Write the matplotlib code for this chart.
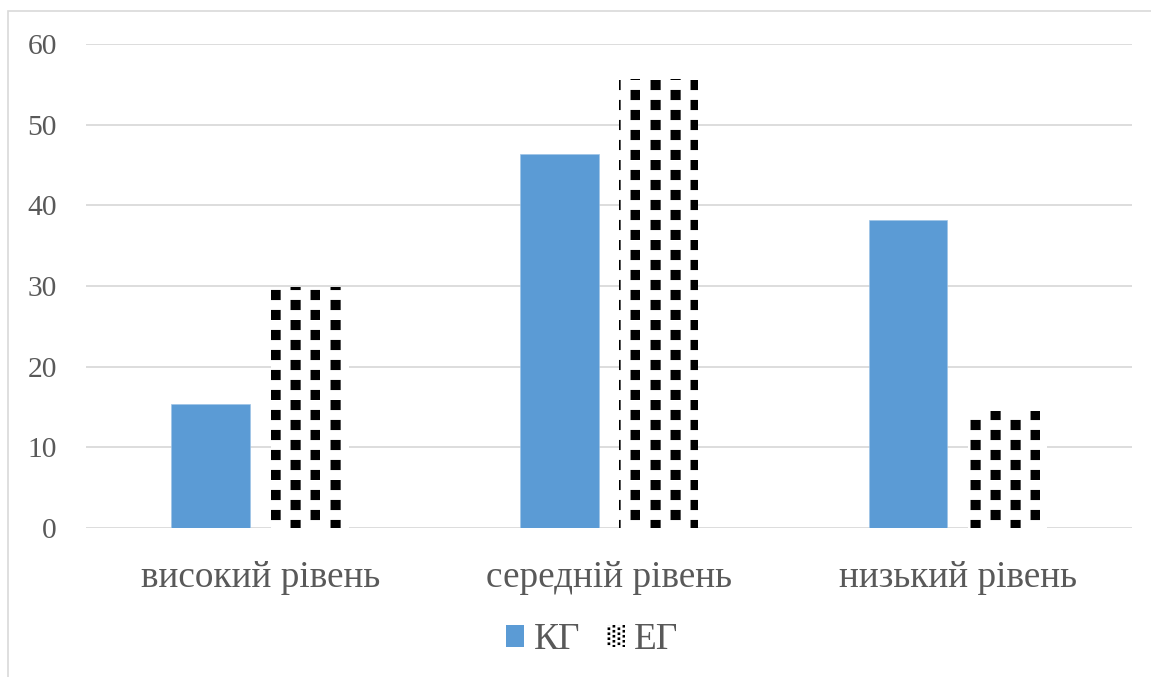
import warnings
import numpy as np
import matplotlib
matplotlib.use("Agg")
import matplotlib.pyplot as plt
import matplotlib.hatch as mhatch
import matplotlib.patches as mpatches
from matplotlib.path import Path

warnings.filterwarnings("ignore")

# ---- data ----
categories = ["високий рівень", "середній рівень", "низький рівень"]
kg_values = [15.4, 46.4, 38.2]
eg_values = [29.9, 55.6, 14.5]
series_names = ["КГ", "ЕГ"]
y_ticks = [0, 10, 20, 30, 40, 50, 60]

BLUE = "#5b9bd5"
GRID = "#d9d9d9"
TEXT = "#595959"
DPI = 80  # hatch tile = DPI pixels


class SquareDots(mhatch.HatchPatternBase):
    """Staggered black squares; more 's' in the hatch string -> denser."""

    def __init__(self, hatch, density):
        self.n = hatch.count("s")
        self.cols = 4 * self.n
        self.rows = 4 * self.n
        self.num_vertices = self.cols * self.rows * 5

    def set_vertices_and_codes(self, vertices, codes):
        step = 1.0 / self.cols
        size = step * 0.5
        i = 0
        for c in range(self.cols):
            x0 = c * step + 0.53 * step
            # odd columns sit half a step lower than even ones
            yoff = 0.0 if c % 2 else 0.5 * step
            for r in range(self.rows):
                y0 = r * step + yoff
                vertices[i:i + 5] = [(x0, y0), (x0 + size, y0),
                                     (x0 + size, y0 + size), (x0, y0 + size),
                                     (x0, y0)]
                codes[i:i + 5] = [Path.MOVETO, Path.LINETO, Path.LINETO,
                                  Path.LINETO, Path.CLOSEPOLY]
                i += 5


mhatch._hatch_types.append(SquareDots)

plt.rcParams["font.family"] = ["Liberation Serif", "DejaVu Serif"]
plt.rcParams["hatch.linewidth"] = 0.1

fig = plt.figure(figsize=(1151 / DPI, 677 / DPI), dpi=DPI)
ax = fig.add_axes([86 / 1151, 1 - 528 / 677, (1132 - 86) / 1151, (528 - 44) / 677])

# outer chart border
fig.patches.append(mpatches.Rectangle((8 / 1151, -0.05), 1.1, 1 - 11 / 677 + 0.05,
                                      transform=fig.transFigure, fill=False,
                                      edgecolor=GRID, linewidth=1.5))

x = np.arange(len(categories))
width = 0.225
offset = 0.1425

ax.bar(x - offset, kg_values, width, color=BLUE, edgecolor="#9dc3e6",
       linewidth=0.6, zorder=3, label=series_names[0])
ax.bar(x + offset, eg_values, width, color="white", edgecolor="black",
       linewidth=0, hatch="s", zorder=3, label=series_names[1])

ax.set_xlim(-0.5, len(categories) - 0.5)
ax.set_ylim(0, 60)
ax.set_yticks(y_ticks)
ax.set_xticks(x)
ax.set_xticklabels(categories)
ax.yaxis.grid(True, color=GRID, linewidth=1.6, zorder=0)
ax.set_axisbelow(True)
for s in ax.spines.values():
    s.set_visible(False)
ax.tick_params(axis="y", length=0, pad=26, labelsize=26.5, labelcolor=TEXT)
ax.tick_params(axis="x", length=0, pad=29, labelsize=33.5, labelcolor=TEXT)

handles = [mpatches.Patch(facecolor=BLUE, edgecolor=BLUE, linewidth=0),
           mpatches.Patch(facecolor="white", edgecolor="black", linewidth=0, hatch="ssss")]
fig.legend(handles, series_names, loc="center", bbox_to_anchor=(592 / 1151, 1 - 640 / 677),
           ncol=2, frameon=False, fontsize=33.5, labelcolor=TEXT,
           handlelength=0.5, handleheight=0.5, handletextpad=0.25, columnspacing=0.7)

fig.savefig("out.png", dpi=DPI)
